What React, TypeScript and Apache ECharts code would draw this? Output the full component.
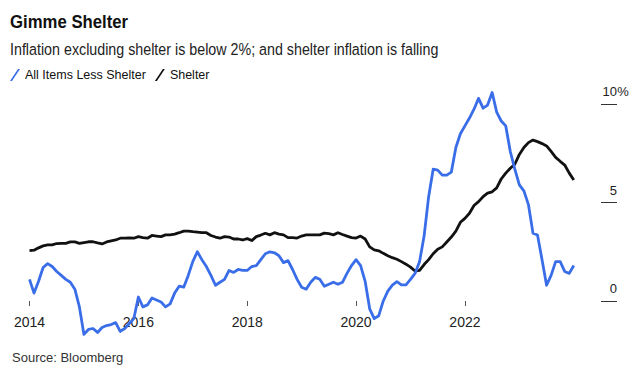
import React, { useEffect, useRef } from "react";
import * as echarts from "echarts";

const START_YEAR = 2014;
const X_TICKS = [2014, 2016, 2018, 2020, 2022];
const Y_TICKS = [0, 5, 10];

// Monthly y/y %, Jan 2014 onward
const LESS_SHELTER = [
  1.1, 0.4, 1.0, 1.7, 1.9, 1.75, 1.5, 1.3, 1.1, 0.95, 0.6, -0.3,
  -1.7, -1.45, -1.4, -1.6, -1.35, -1.25, -1.2, -1.1, -1.55, -1.4, -1.15, -0.9,
  0.2, -0.3, -0.2, 0.15, 0.05, -0.05, -0.3, -0.15, 0.4, 0.75, 0.7, 1.3,
  2.0, 2.5, 2.1, 1.75, 1.3, 0.8, 0.95, 1.1, 1.55, 1.45, 1.6, 1.55,
  1.55, 1.75, 1.8, 2.1, 2.4, 2.5, 2.45, 2.3, 1.95, 2.05, 1.6, 1.1,
  0.7, 0.6, 0.95, 1.2, 1.1, 0.75, 0.85, 0.95, 0.85, 0.95, 1.4, 1.8,
  2.1, 1.8, 1.0, -0.4, -0.9, -0.75, 0.0, 0.5, 0.8, 0.98, 0.82, 0.82,
  1.1, 1.4, 2.0, 3.3, 5.3, 6.7, 6.65, 6.4, 6.4, 6.55, 7.8, 8.5,
  8.9, 9.3, 9.75, 10.3, 9.8, 9.96, 10.6, 9.6, 9.15, 8.9, 7.6, 6.7,
  5.9, 5.6, 4.9, 3.45, 3.35, 2.1, 0.8, 1.3, 2.0, 2.0, 1.5, 1.4,
  1.8,
];

const SHELTER = [
  2.56, 2.58, 2.7, 2.8, 2.85, 2.85, 2.92, 2.93, 2.93, 3.0, 3.0, 2.93,
  2.97, 3.01, 3.01, 2.95, 2.9, 3.0, 3.05, 3.1, 3.19, 3.19, 3.2, 3.19,
  3.27, 3.22, 3.19, 3.33, 3.3, 3.27, 3.36, 3.36, 3.4, 3.47, 3.55, 3.55,
  3.52, 3.5, 3.47, 3.47, 3.33, 3.25, 3.19, 3.27, 3.25, 3.15, 3.15, 3.1,
  3.17, 3.07, 3.27, 3.35, 3.44, 3.36, 3.47, 3.4, 3.36, 3.22, 3.22, 3.2,
  3.3, 3.36, 3.36, 3.36, 3.36, 3.45, 3.42, 3.36, 3.47, 3.38, 3.3, 3.22,
  3.2, 3.3, 3.15, 2.75, 2.6, 2.55, 2.42, 2.3, 2.2, 2.12, 2.0, 1.87,
  1.72, 1.52, 1.55, 1.85, 2.1, 2.4, 2.63, 2.75, 3.0, 3.25, 3.55, 4.0,
  4.2, 4.46, 4.85, 5.05, 5.3, 5.48, 5.55, 5.75, 6.2, 6.5, 6.75, 6.95,
  7.45, 7.8, 8.05, 8.18, 8.1, 8.0, 7.88, 7.6, 7.3, 7.1, 6.91, 6.5,
  6.15,
];

const toPairs = (arr: number[]) => arr.map((v, i) => [START_YEAR + i / 12, v]);

const FONT = '"Liberation Sans", Arial, Helvetica, sans-serif';

export default function App() {
  const ref = useRef<HTMLDivElement>(null);

  useEffect(() => {
    if (!ref.current) return;
    const chart = echarts.init(ref.current, undefined, { renderer: "svg" });
    chart.setOption({
      animation: false,
      backgroundColor: "#ffffff",
      textStyle: { fontFamily: FONT },
      graphic: [
        {
          type: "text",
          x: 10,
          y: 21.5,
          scaleX: 0.93,
          style: {
            text: "Gimme Shelter",
            font: `bold 18px ${FONT}`,
            fill: "#111111",
            verticalAlign: "middle",
            align: "left",
          },
        },
        {
          type: "text",
          x: 10,
          y: 48.8,
          scaleX: 0.84,
          style: {
            text: "Inflation excluding shelter is below 2%; and shelter inflation is falling",
            font: `17px ${FONT}`,
            fill: "#222222",
            verticalAlign: "middle",
            align: "left",
          },
        },
        {
          type: "text",
          x: 12,
          y: 357,
          style: {
            text: "Source: Bloomberg",
            font: `13px ${FONT}`,
            fill: "#333333",
            verticalAlign: "middle",
            align: "left",
          },
        },
      ],
      legend: {
        left: 10,
        top: 68.5,
        itemWidth: 10,
        itemHeight: 12,
        itemGap: 9,
        padding: 0,
        data: ["All Items Less Shelter", "Shelter"],
        icon: "path://M8,0 L10,0 L2,12 L0,12 Z",
        textStyle: { fontSize: 12.5, color: "#111111", fontFamily: FONT },
      },
      grid: {
        left: 29.5,
        right: 39,
        top: 84.6,
        bottom: 42.7,
        containLabel: false,
        outerBoundsMode: "none",
      },
      xAxis: {
        type: "value",
        position: "bottom",
        offset: -39.3,
        min: 2014,
        max: 2024.5,
        interval: 2,
        axisLine: { show: false, onZero: false },
        axisTick: {
          show: true,
          length: 5,
          customValues: X_TICKS,
          lineStyle: { color: "#555555", width: 1 },
        },
        axisLabel: {
          customValues: X_TICKS,
          formatter: (v: number) => String(Math.round(v)),
          fontSize: 14,
          color: "#222222",
          margin: 14,
          fontFamily: FONT,
        },
        splitLine: { show: false },
      },
      yAxis: {
        type: "value",
        position: "right",
        min: -2,
        max: 11,
        axisLine: { show: false, onZero: false },
        axisTick: {
          show: true,
          length: 16,
          inside: false,
          customValues: Y_TICKS,
          lineStyle: { color: "#333333", width: 1 },
        },
        axisLabel: {
          customValues: Y_TICKS,
          align: "right",
          verticalAlign: "bottom",
          margin: 28,
          padding: [0, 0, 6, 0],
          formatter: (v: number) => `{n|${v}}{p|${v === 10 ? "%" : " "}}`,
          rich: {
            n: { fontSize: 13, color: "#222222", fontFamily: FONT },
            p: { fontSize: 13, color: "#222222", fontFamily: FONT, width: 12, align: "left" },
          },
        },
        splitLine: { show: false },
      },
      series: [
        {
          name: "All Items Less Shelter",
          type: "line",
          data: toPairs(LESS_SHELTER),
          showSymbol: false,
          z: 3,
          color: "#3a6de8",
          lineStyle: { color: "#3a6de8", width: 2.8, join: "round" },
        },
        {
          name: "Shelter",
          type: "line",
          data: toPairs(SHELTER),
          showSymbol: false,
          z: 2,
          color: "#111111",
          lineStyle: { color: "#111111", width: 2.8, join: "round" },
        },
      ],
    });
    return () => chart.dispose();
  }, []);

  return (
    <div
      ref={ref}
      style={{ position: "fixed", left: 0, top: 0, width: 640, height: 383, background: "#fff" }}
    />
  );
}
